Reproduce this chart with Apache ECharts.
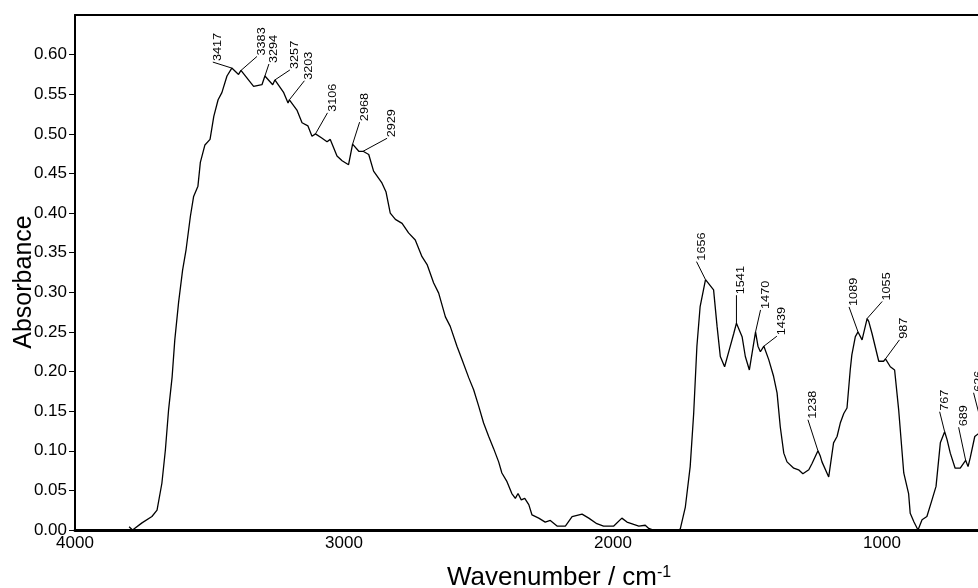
<!DOCTYPE html>
<html>
<head>
<meta charset="utf-8">
<title>IR spectrum</title>
<script src="https://cdn.jsdelivr.net/npm/echarts@6/dist/echarts.min.js"></script>
<style>
  html, body { margin: 0; padding: 0; background: #fff; }
  #main { width: 978px; height: 588px; }
</style>
</head>
<body>
<div id="main"></div>
<script>
// spectrum: wavenumber (cm-1) and absorbance
const wavenumbers = [
  3799, 3786, 3751, 3714, 3695, 3677, 3664, 3652, 3639, 3629, 3615, 3600, 3587, 3571, 3559, 3543,
  3534, 3517, 3498, 3484, 3468, 3454, 3435, 3417, 3392, 3383, 3336, 3305, 3294, 3265, 3257, 3224,
  3208, 3203, 3175, 3156, 3134, 3119, 3106, 3084, 3063, 3051, 3026, 3007, 2983, 2968, 2945, 2929,
  2908, 2890, 2859, 2844, 2828, 2809, 2784, 2760, 2735, 2710, 2691, 2667, 2648, 2623, 2605, 2580,
  2561, 2536, 2518, 2499, 2481, 2462, 2444, 2425, 2413, 2394, 2376, 2363, 2353, 2341, 2328, 2313,
  2301, 2276, 2252, 2233, 2208, 2177, 2152, 2115, 2090, 2060, 2035, 1997, 1967, 1948, 1923, 1904,
  1880, 1867, 1850, 1760, 1750, 1731, 1713, 1700, 1688, 1676, 1656, 1650, 1626, 1613, 1601, 1585,
  1568, 1551, 1541, 1520, 1508, 1493, 1483, 1470, 1461, 1452, 1439, 1421, 1403, 1390, 1378, 1365,
  1353, 1328, 1310, 1294, 1272, 1260, 1238, 1229, 1223, 1198, 1180, 1167, 1155, 1142, 1130, 1118,
  1112, 1099, 1089, 1074, 1055, 1049, 1037, 1012, 994, 987, 969, 953, 938, 919, 901, 895,
  881, 866, 851, 833, 814, 799, 783, 767, 758, 746, 728, 709, 689, 680, 672, 655,
  640, 626, 610
];
const absorbance = [
  0.004, 0.000, 0.009, 0.017, 0.025, 0.059, 0.101, 0.152, 0.193, 0.240, 0.287, 0.328, 0.354, 0.396, 0.421, 0.434,
  0.464, 0.486, 0.493, 0.522, 0.543, 0.552, 0.573, 0.583, 0.575, 0.580, 0.560, 0.562, 0.573, 0.562, 0.568, 0.552,
  0.539, 0.543, 0.530, 0.514, 0.510, 0.497, 0.500, 0.495, 0.490, 0.493, 0.472, 0.466, 0.461, 0.487, 0.478, 0.478,
  0.474, 0.453, 0.438, 0.427, 0.400, 0.392, 0.387, 0.375, 0.366, 0.345, 0.335, 0.312, 0.299, 0.269, 0.257, 0.232,
  0.215, 0.192, 0.177, 0.156, 0.135, 0.118, 0.103, 0.086, 0.072, 0.061, 0.046, 0.040, 0.046, 0.038, 0.040, 0.032,
  0.019, 0.015, 0.010, 0.012, 0.005, 0.005, 0.017, 0.020, 0.015, 0.008, 0.005, 0.005, 0.015, 0.010, 0.007, 0.005,
  0.006, 0.002, 0.000, 0.000, 0.001, 0.029, 0.080, 0.147, 0.232, 0.282, 0.316, 0.314, 0.303, 0.257, 0.219, 0.206,
  0.227, 0.248, 0.261, 0.244, 0.219, 0.202, 0.223, 0.250, 0.232, 0.225, 0.232, 0.215, 0.194, 0.173, 0.130, 0.097,
  0.086, 0.078, 0.076, 0.071, 0.076, 0.084, 0.100, 0.093, 0.086, 0.067, 0.110, 0.118, 0.135, 0.147, 0.154, 0.202,
  0.221, 0.244, 0.250, 0.240, 0.267, 0.263, 0.248, 0.213, 0.213, 0.216, 0.206, 0.202, 0.152, 0.072, 0.046, 0.021,
  0.010, 0.000, 0.013, 0.017, 0.038, 0.055, 0.110, 0.124, 0.114, 0.097, 0.078, 0.078, 0.088, 0.080, 0.091, 0.118,
  0.122, 0.129, 0.131
];

// labelled peaks
const peakWavenumbers = [3417, 3383, 3294, 3257, 3203, 3106, 2968, 2929, 1656, 1541, 1470, 1439, 1238, 1089, 1055, 987, 767, 689, 626];
const peakAbsorbance = [0.583, 0.580, 0.573, 0.568, 0.543, 0.500, 0.487, 0.478, 0.316, 0.261, 0.250, 0.232, 0.100, 0.250, 0.267, 0.216, 0.124, 0.088, 0.129];

const xTickValues = [4000, 3000, 2000, 1000];

// leader line end, in pixels from the peak
const leaderOffsets = [
  [-19, -6], [16, -14], [4, -12], [15, -10], [15, -19], [12, -21], [7, -22], [24, -13],
  [-9, -18], [0, -28], [5, -22], [13, -10], [-10, -31], [-9, -25], [15, -17], [14, -19],
  [-5, -20], [-7, -33], [-9, -35]
];

const FONT = '"Liberation Sans", Arial, sans-serif';

const chart = echarts.init(document.getElementById('main'));

const xBase = {
  type: 'value',
  inverse: true,
  min: 643,
  max: 4000,
  splitLine: { show: false }
};

const option = {
  animation: false,
  backgroundColor: '#fff',
  grid: { left: 75, right: 0, top: 15, bottom: 58 },
  xAxis: [
    Object.assign({}, xBase, {
      position: 'bottom',
      axisLine: { show: true, onZero: false, lineStyle: { color: '#000', width: 3 } },
      axisTick: { show: false },
      axisLabel: {
        customValues: xTickValues,
        color: '#000', fontFamily: FONT, fontSize: 17, margin: 5,
        formatter: v => String(v)
      }
    }),
    // top frame line
    Object.assign({}, xBase, {
      position: 'top',
      axisLine: { show: true, onZero: false, lineStyle: { color: '#000', width: 2 } },
      axisTick: { show: false },
      axisLabel: { show: false }
    })
  ],
  yAxis: {
    type: 'value',
    min: 0,
    max: 0.65,
    interval: 0.05,
    axisLine: { show: true, lineStyle: { color: '#000', width: 2 } },
    axisTick: { show: true, length: 6, lineStyle: { color: '#000', width: 1 } },
    splitLine: { show: false },
    axisLabel: {
      showMaxLabel: false,
      color: '#000', fontFamily: FONT, fontSize: 17, margin: 8,
      formatter: v => v.toFixed(2)
    }
  },
  series: [{
    type: 'line',
    xAxisIndex: 0,
    showSymbol: false,
    lineStyle: { color: '#000', width: 1.3 },
    data: wavenumbers.map((w, i) => [w, absorbance[i]])
  }]
};
chart.setOption(option);

// peak labels with leader lines, placed from the data coords
const graphics = [];
peakWavenumbers.forEach((w, i) => {
  const p = chart.convertToPixel({ xAxisIndex: 0, yAxisIndex: 0 }, [w, peakAbsorbance[i]]);
  const ex = p[0] + leaderOffsets[i][0];
  const ey = p[1] + leaderOffsets[i][1];
  graphics.push({
    type: 'line', silent: true,
    shape: { x1: p[0], y1: p[1], x2: ex, y2: ey },
    style: { stroke: '#000', lineWidth: 1 }
  });
  graphics.push({
    type: 'text', silent: true,
    x: ex + 5, y: ey - 1, rotation: Math.PI / 2, scaleX: 1.15,
    style: { text: String(w), font: '11px ' + FONT, fill: '#000', align: 'left', verticalAlign: 'middle' }
  });
});

// axis titles
graphics.push({
  type: 'text', silent: true,
  x: 24, y: 282, rotation: Math.PI / 2,
  style: { text: 'Absorbance', font: '25px ' + FONT, fill: '#000', align: 'center', verticalAlign: 'middle' }
});
graphics.push({
  type: 'text', silent: true,
  x: 447, y: 578,
  style: {
    text: '{a|Wavenumber / cm}{b|-1}',
    align: 'left', verticalAlign: 'middle',
    rich: {
      a: { fontFamily: FONT, fontSize: 26, fill: '#000' },
      b: { fontFamily: FONT, fontSize: 16, fill: '#000', verticalAlign: 'top' }
    }
  }
});

chart.setOption({ graphic: graphics });
</script>
</body>
</html>
